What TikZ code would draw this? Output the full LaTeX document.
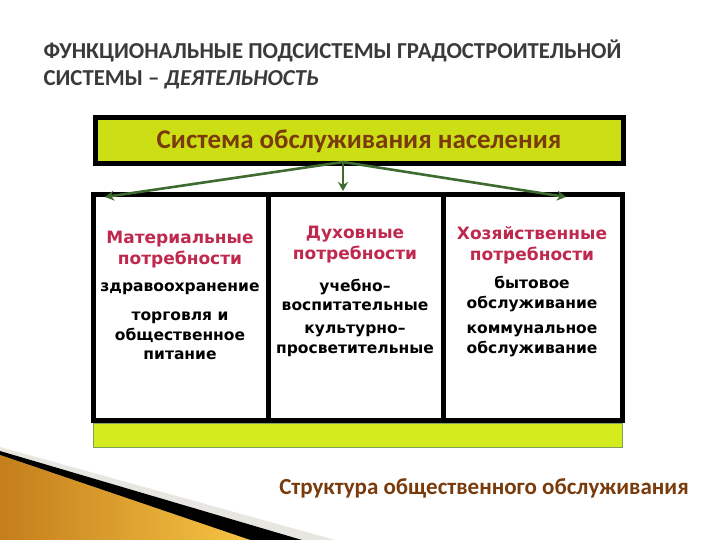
\documentclass[tikz,border=0pt]{standalone}
\usepackage{fontspec}
\setmainfont{DejaVu Sans}
\newfontfamily\carl{Carlito}
\newfontfamily\dvs{DejaVu Sans}
\usetikzlibrary{arrows.meta,positioning}
\definecolor{titlegray}{HTML}{3A3A3A}
\definecolor{limetop}{HTML}{CCDF14}
\definecolor{limebar}{HTML}{D4EC1E}
\definecolor{barline}{HTML}{7EA05A}
\definecolor{brownt}{HTML}{7A3B0C}
\definecolor{crimson}{HTML}{C0294E}
\definecolor{arrgreen}{HTML}{3E6B2F}
\definecolor{goldA}{HTML}{C47E1C}
\definecolor{goldB}{HTML}{F6C443}
\definecolor{fadegray}{HTML}{E8E6E0}
\tikzset{
  head/.style={text=crimson,align=center,font=\dvs\bfseries\fontsize{17}{21}\selectfont},
  item/.style={text=black,align=center,font=\dvs\bfseries\fontsize{15.5}{19.5}\selectfont},
  conn/.style={draw=arrgreen,line width=2.6pt,-{Stealth[length=9pt,width=10pt]}},
  frame/.style={draw=black,line width=5pt}
}
\begin{document}
\begin{tikzpicture}[x=1pt,y=-1pt]
\useasboundingbox (0,0) rectangle (720,540);
\fill[white] (0,0) rectangle (720,540);
% decoration bottom-left
\fill[fadegray] (0,447) -- (335,540) -- (295,540) -- (0,451) -- cycle;
\fill[black] (0,451) -- (302,540) -- (250,540) -- (0,455) -- cycle;
\fill[left color=goldA,right color=goldB] (0,455) -- (250,540) -- (0,540) -- cycle;
% title
\node[anchor=west,text=titlegray,font=\carl\bfseries\fontsize{22.8}{27}\selectfont,align=left] (title) at (40,64)
  {ФУНКЦИОНАЛЬНЫЕ ПОДСИСТЕМЫ ГРАДОСТРОИТЕЛЬНОЙ\\СИСТЕМЫ – \textit{ДЕЯТЕЛЬНОСТЬ}};
% top box
\node[frame,fill=limetop,minimum width=528pt,minimum height=46pt,inner sep=0pt,text=brownt,
  font=\carl\bfseries\fontsize{27}{31}\selectfont] (top) at (359,141) {Система обслуживания населения};
% table
\fill[limebar] (93,423) rectangle (622,447);
\draw[barline,line width=1pt] (93,423) rectangle (622,447);
\draw[frame] (93,195) rectangle (622,420);
\draw[frame] (268,195) -- (268,420);
\draw[frame] (443,195) -- (443,420);
\coordinate (c1) at (105,197);
\coordinate (c2) at (343,191);
\coordinate (c3) at (566,197);
\coordinate (src) at (343,162);
\draw[conn] (src) -- (c1);
\draw[conn] (src) -- (c2);
\draw[conn] (src) -- (c3);
% column 1
\node[head] (h1) at (180,250) {Материальные\\потребности};
\node[item] (i11) at (180,289) {здравоохранение};
\node[item] (i12) at (180,336) {торговля и\\общественное\\питание};
% column 2
\node[head] (h2) at (355,245) {Духовные\\потребности};
\node[item] (i21) at (355,295) {учебно–\\воспитательные};
\node[item] (i22) at (355,341) {культурно–\\просветительные};
% column 3
\node[head] (h3) at (532,245) {Хозяйственные\\потребности};
\node[item] (i31) at (532,294) {бытовое\\обслуживание};
\node[item] (i32) at (532,341) {коммунальное\\обслуживание};
% caption
\node[text=brownt,font=\carl\bfseries\fontsize{23}{27}\selectfont] (cap) at (484,488) {Структура общественного обслуживания};
\end{tikzpicture}
\end{document}
